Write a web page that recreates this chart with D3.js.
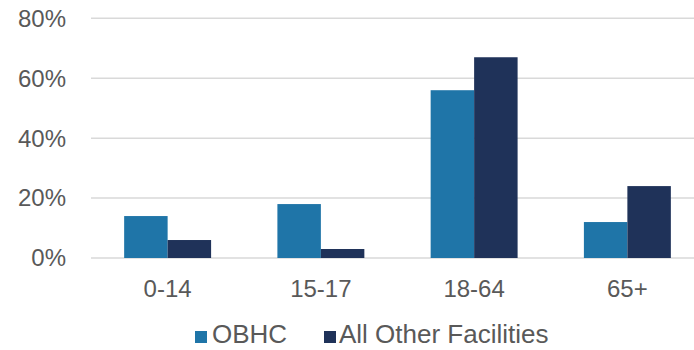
<!DOCTYPE html>
<html>
<head>
<meta charset="utf-8">
<script src="https://cdn.jsdelivr.net/npm/d3@7"></script>
<style>
  html, body { margin: 0; padding: 0; background: #fff; }
  svg { display: block; }
  text { font-family: "Liberation Sans", Arial, sans-serif; fill: #595959; }
</style>
</head>
<body>
<svg id="chart" width="694" height="350"></svg>
<script>
const categories = ["0-14", "15-17", "18-64", "65+"];
const seriesNames = ["OBHC", "All Other Facilities"];
const obhc = [14, 18, 56, 12];
const otherFacilities = [6, 3, 67, 24];
const yTicks = [0, 20, 40, 60, 80];
const colors = ["#1F75A8", "#1F3259"];

const svg = d3.select("#chart");
const plotLeft = 91, plotRight = 704, plotTop = 18.3, plotBottom = 258;

const x = d3.scaleBand().domain(categories).range([plotLeft, plotRight])
  .paddingInner(0.4326).paddingOuter(0.2163);
const xs = d3.scaleBand().domain(seriesNames).range([0, x.bandwidth()]);
const y = d3.scaleLinear().domain([0, 80]).range([plotBottom, plotTop]);

// gridlines
svg.append("g").selectAll("line").data(yTicks).join("line")
  .attr("x1", plotLeft).attr("x2", 694)
  .attr("y1", d => y(d)).attr("y2", d => y(d))
  .attr("stroke", "#d9d9d9").attr("stroke-width", 1.5);

// y labels
svg.append("g").selectAll("text").data(yTicks).join("text")
  .attr("x", 66).attr("y", d => y(d)).attr("dy", "0.35em")
  .attr("text-anchor", "end").attr("font-size", 24)
  .text(d => d + "%");

const rows = categories.map((c, i) => ({cat: c, vals: [obhc[i], otherFacilities[i]]}));

const groups = svg.append("g").selectAll("g").data(rows).join("g")
  .attr("transform", d => `translate(${x(d.cat)},0)`);
groups.selectAll("rect").data(d => d.vals.map((v, j) => ({name: seriesNames[j], v, j})))
  .join("rect")
  .attr("x", d => xs(d.name)).attr("width", xs.bandwidth())
  .attr("y", d => y(d.v)).attr("height", d => y(0) - y(d.v))
  .attr("fill", d => colors[d.j]);

// x labels
svg.append("g").selectAll("text").data(categories).join("text")
  .attr("x", d => x(d) + x.bandwidth() / 2).attr("y", 296.5)
  .attr("text-anchor", "middle").attr("font-size", 24)
  .text(d => d);

// legend
const legendItems = [
  {name: seriesNames[0], color: colors[0], sx: 195, tx: 212},
  {name: seriesNames[1], color: colors[1], sx: 324, tx: 339}
];
const lg = svg.append("g");
legendItems.forEach(it => {
  lg.append("rect").attr("x", it.sx).attr("y", 331).attr("width", 12).attr("height", 12).attr("fill", it.color);
  lg.append("text").attr("x", it.tx).attr("y", 343).attr("font-size", 26).text(it.name);
});
</script>
</body>
</html>
